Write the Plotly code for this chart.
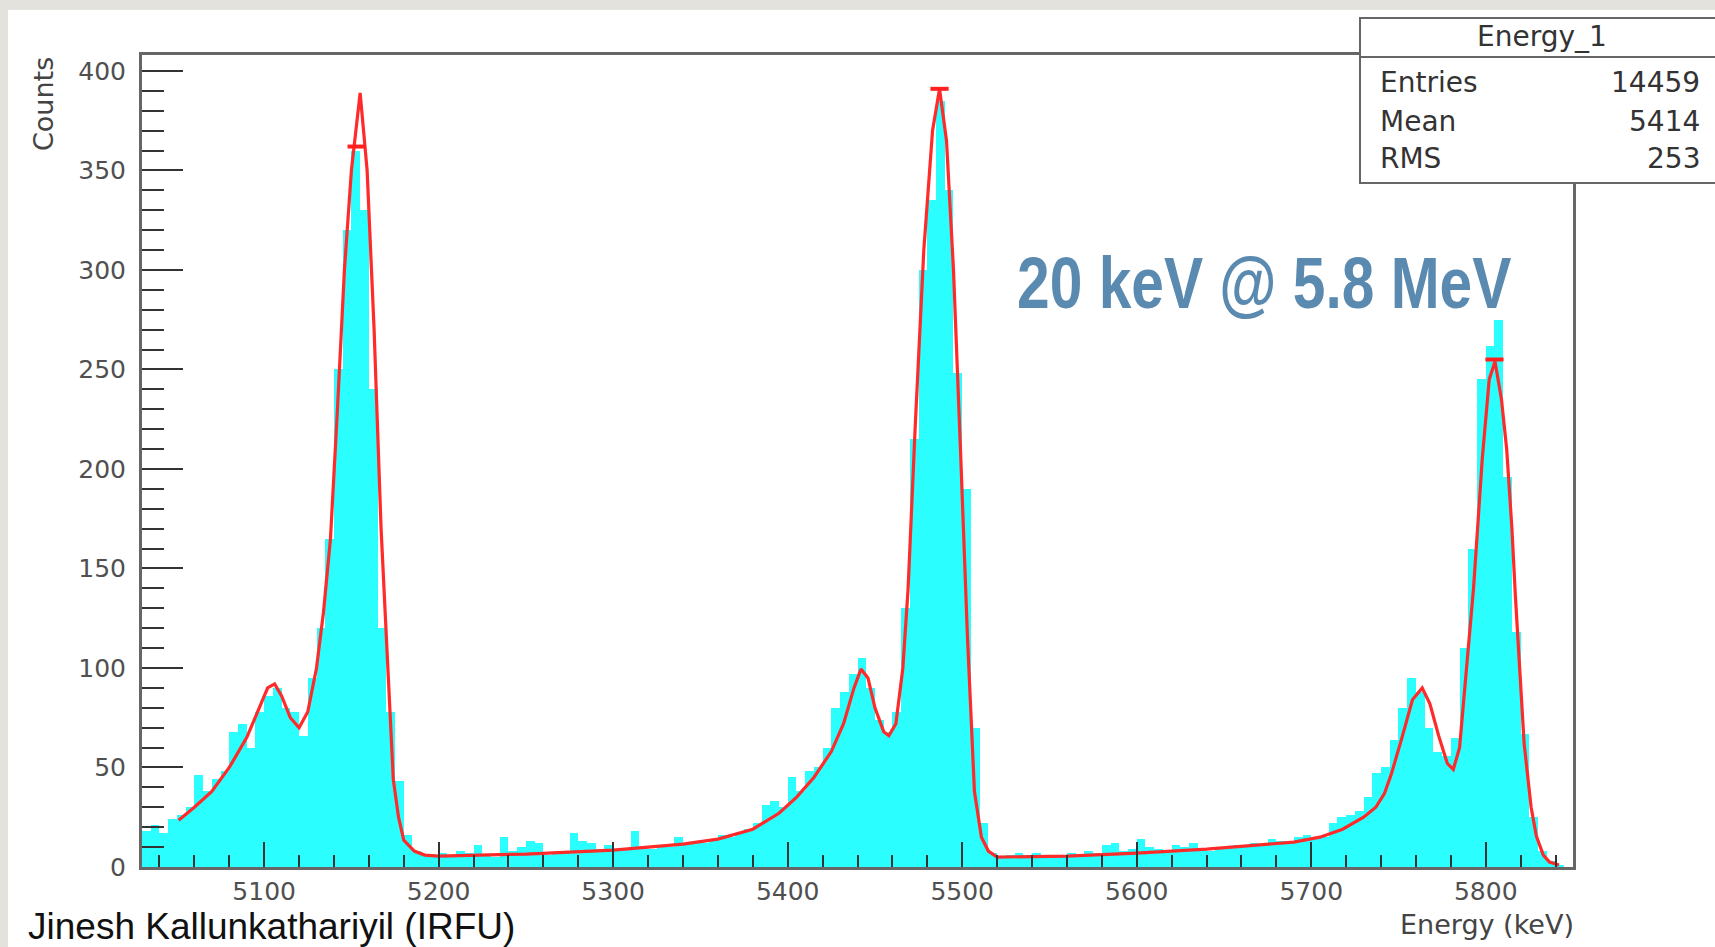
import numpy as np
import plotly.graph_objects as go

# ---------------- data ----------------
bin_start = 5030.0   # keV, lower edge of first bin
bin_width = 5.0      # keV
counts = [
    # 5032.5 ... 5192.5
    18, 21, 17, 24, 26, 30, 46, 38, 44, 48, 68, 72, 60, 78, 86, 90, 80, 78, 66, 95,
    120, 165, 250, 320, 360, 330, 240, 120, 78, 43, 16, 8, 6,
    # 5197.5 ... 5392.5
    5, 7, 6, 8, 7, 11, 6, 5, 15, 8, 10, 13, 12, 6, 7, 8, 17, 13, 12, 9,
    11, 8, 9, 18, 10, 9, 11, 10, 15, 12, 13, 12, 14, 16, 15, 17, 19, 22, 31, 33,
    # 5397.5 ... 5517.5
    30, 45, 38, 48, 50, 60, 80, 88, 97, 105, 90, 74, 68, 78, 130, 215, 300, 335, 385, 340,
    248, 190, 70, 22, 7,
    # 5522.5 ... 5682.5
    5, 6, 7, 6, 7, 5, 6, 5, 7, 6, 8, 7, 11, 12, 8, 9, 14, 10, 9, 8,
    11, 10, 12, 9, 8, 9, 10, 11, 10, 12, 11, 14, 13,
    # 5687.5 ... 5847.5
    13, 15, 16, 14, 15, 22, 25, 26, 28, 35, 47, 50, 64, 80, 95, 88, 70, 58, 56, 65,
    110, 160, 245, 262, 275, 196, 118, 67, 25, 8, 3, 1, 0,
]

fit_energy = [5051, 5060, 5070, 5080, 5090, 5097, 5102, 5106, 5110, 5115, 5120, 5125, 5130, 5134,
              5138, 5142, 5146, 5150, 5155, 5159, 5163, 5167, 5171, 5174, 5177, 5180, 5186, 5192,
              5200, 5250, 5300, 5340, 5360, 5380, 5395, 5405, 5415, 5425, 5432, 5438, 5442, 5446,
              5450, 5455, 5458, 5462, 5466, 5469, 5473, 5478, 5483, 5487, 5491, 5495, 5499, 5503,
              5507, 5511, 5515, 5520, 5560, 5600, 5640, 5670, 5690, 5705, 5718, 5730, 5737, 5742,
              5746, 5752, 5758, 5763.6, 5768, 5773, 5778, 5781.4, 5785, 5789, 5793, 5798, 5802,
              5805.3, 5809, 5812, 5815, 5817, 5820, 5822, 5826, 5829, 5833, 5836.5, 5842]
fit_counts = [23.5, 30, 38, 50, 65, 80, 90, 92, 86, 75, 70, 78, 100, 128,
              165, 230, 300, 350, 389, 350, 270, 170, 94, 44, 25, 13.5, 8, 6,
              5.5, 6.5, 8.5, 11.5, 14, 19, 27, 35, 45, 58, 72, 90, 99.5, 95,
              80, 68, 66, 72, 100, 140, 220, 310, 370, 391, 365, 300, 210, 116,
              38, 15, 8, 5, 5.5, 7, 9, 11, 12.5, 15, 19, 25, 30, 37,
              47, 65, 84, 90, 82, 66, 52, 49, 60, 100, 140, 205, 245,
              254, 235, 210, 170, 136, 95, 62, 30, 15.5, 6, 2.5, 1]

# red marks at the tops of the three main peaks
peak_mark_energy = [5153, 5487, 5805]
peak_mark_counts = [362, 391, 255]

x_ticks = [5100, 5200, 5300, 5400, 5500, 5600, 5700, 5800]
y_ticks = [0, 50, 100, 150, 200, 250, 300, 350, 400]
x_range = [5030, 5850]
y_range = [0, 408]

stats_title = "Energy_1"
stats_names = ["Entries", "Mean", "RMS"]
stats_values = ["14459", "5414", "253"]

# ---------------- layout geometry (pixels) ----------------
W, H = 1715, 947
L, R, T, B = 142, 1573, 55, 867
PW, PH = R - L, B - T


def px_x(px):
    return (px - L) / PW


def px_y(py):
    return (B - py) / PH


centers = bin_start + bin_width * (np.arange(len(counts)) + 0.5)

fig = go.Figure()
fig.add_trace(go.Bar(x=centers, y=counts, width=bin_width,
                     marker=dict(color="#2bfefe", line=dict(width=0)),
                     hoverinfo="x+y", showlegend=False))
fig.add_trace(go.Scatter(x=fit_energy, y=fit_counts, mode="lines",
                         line=dict(color="#ff2a2a", width=3.2), showlegend=False))
fig.add_trace(go.Scatter(x=peak_mark_energy, y=peak_mark_counts, mode="markers",
                         marker=dict(symbol="line-ew-open", size=13, color="#ff2020",
                                     line=dict(color="#ff2020", width=4)),
                         showlegend=False))

tick_font = dict(family="DejaVu Sans, Verdana, sans-serif", size=25, color="#505050")

fig.update_xaxes(range=x_range, tickmode="array", tickvals=x_ticks,
                 ticks="inside", ticklen=25, tickwidth=2, tickcolor="#333",
                 minor=dict(dtick=20, tick0=5000, ticks="inside", ticklen=12, tickwidth=2, tickcolor="#333"),
                 showline=True, linecolor="#666", linewidth=3, mirror=True,
                 showgrid=False, zeroline=False, tickfont=tick_font, ticklabelstandoff=0)
fig.update_yaxes(range=y_range, tickmode="array", tickvals=y_ticks,
                 ticks="inside", ticklen=41, tickwidth=2, tickcolor="#333",
                 minor=dict(dtick=10, tick0=0, ticks="inside", ticklen=22, tickwidth=2, tickcolor="#333"),
                 showline=True, linecolor="#666", linewidth=3, mirror=True,
                 showgrid=False, zeroline=False, tickfont=tick_font, ticklabelstandoff=8)

shapes = [
    # white card over the textured page background
    dict(type="rect", xref="paper", yref="paper", layer="below",
         x0=px_x(8), x1=px_x(1730), y0=px_y(960), y1=px_y(10),
         fillcolor="white", line=dict(width=0)),
    # stats box
    dict(type="rect", xref="paper", yref="paper", layer="above",
         x0=px_x(1360), x1=px_x(1740), y0=px_y(183), y1=px_y(18),
         fillcolor="white", line=dict(color="#666", width=2)),
    dict(type="line", xref="paper", yref="paper", layer="above",
         x0=px_x(1360), x1=px_x(1740), y0=px_y(57), y1=px_y(57),
         line=dict(color="#666", width=2)),
]

ann = []
label_font = dict(family="DejaVu Sans, Verdana, sans-serif", size=27, color="#444")
ann.append(dict(text="Counts", x=px_x(44), y=px_y(104), textangle=-90,
                xanchor="center", yanchor="middle", font=label_font))
ann.append(dict(text="Energy (keV)", x=px_x(1576), y=px_y(924),
                xanchor="right", yanchor="middle", font=label_font))
ann.append(dict(text="Jinesh Kallunkathariyil (IRFU)", x=px_x(26), y=px_y(926),
                xanchor="left", yanchor="middle",
                font=dict(family="Liberation Sans, Arial, sans-serif", size=37, color="#111")))
ann.append(dict(text="<b>20 keV @ 5.8 MeV</b>", x=px_x(1015), y=px_y(283),
                xanchor="left", yanchor="middle",
                font=dict(family="Liberation Sans, Arial, sans-serif", size=72, color="#5a8ab0")))
stats_font = dict(family="DejaVu Sans, Verdana, sans-serif", size=28, color="#333")
ann.append(dict(text=stats_title, x=px_x(1542), y=px_y(37), xanchor="center", yanchor="middle",
                font=stats_font))
for name, val, yy in zip(stats_names, stats_values, [83, 122, 159]):
    ann.append(dict(text=name, x=px_x(1378), y=px_y(yy), xanchor="left", yanchor="middle",
                    font=stats_font))
    ann.append(dict(text=val, x=px_x(1702), y=px_y(yy), xanchor="right", yanchor="middle",
                    font=stats_font))
for a in ann:
    a.update(xref="paper", yref="paper", showarrow=False)

fig.update_layout(width=W, height=H, autosize=False,
                  margin=dict(l=L, r=W - R, t=T, b=H - B, pad=0),
                  paper_bgcolor="#e4e2dc", plot_bgcolor="white",
                  bargap=0, shapes=shapes, annotations=ann, showlegend=False)

# narrow (condensed) look for the big headline text, keeping its left edge fixed
post = """
var gd = document.getElementById('{plot_id}');
function squeeze() {
  gd.querySelectorAll('text.annotation-text').forEach(function (t) {
    if (t.textContent.indexOf('MeV') >= 0) {
      var bb = t.getBBox();
      var x0 = bb.x;
      t.setAttribute('transform', 'translate(' + x0 + ',0) scale(0.815,1) translate(' + (-x0) + ',0)');
    }
  });
}
squeeze();
gd.on && gd.on('plotly_afterplot', squeeze);
"""

fig.write_html("out.html", post_script=post)
